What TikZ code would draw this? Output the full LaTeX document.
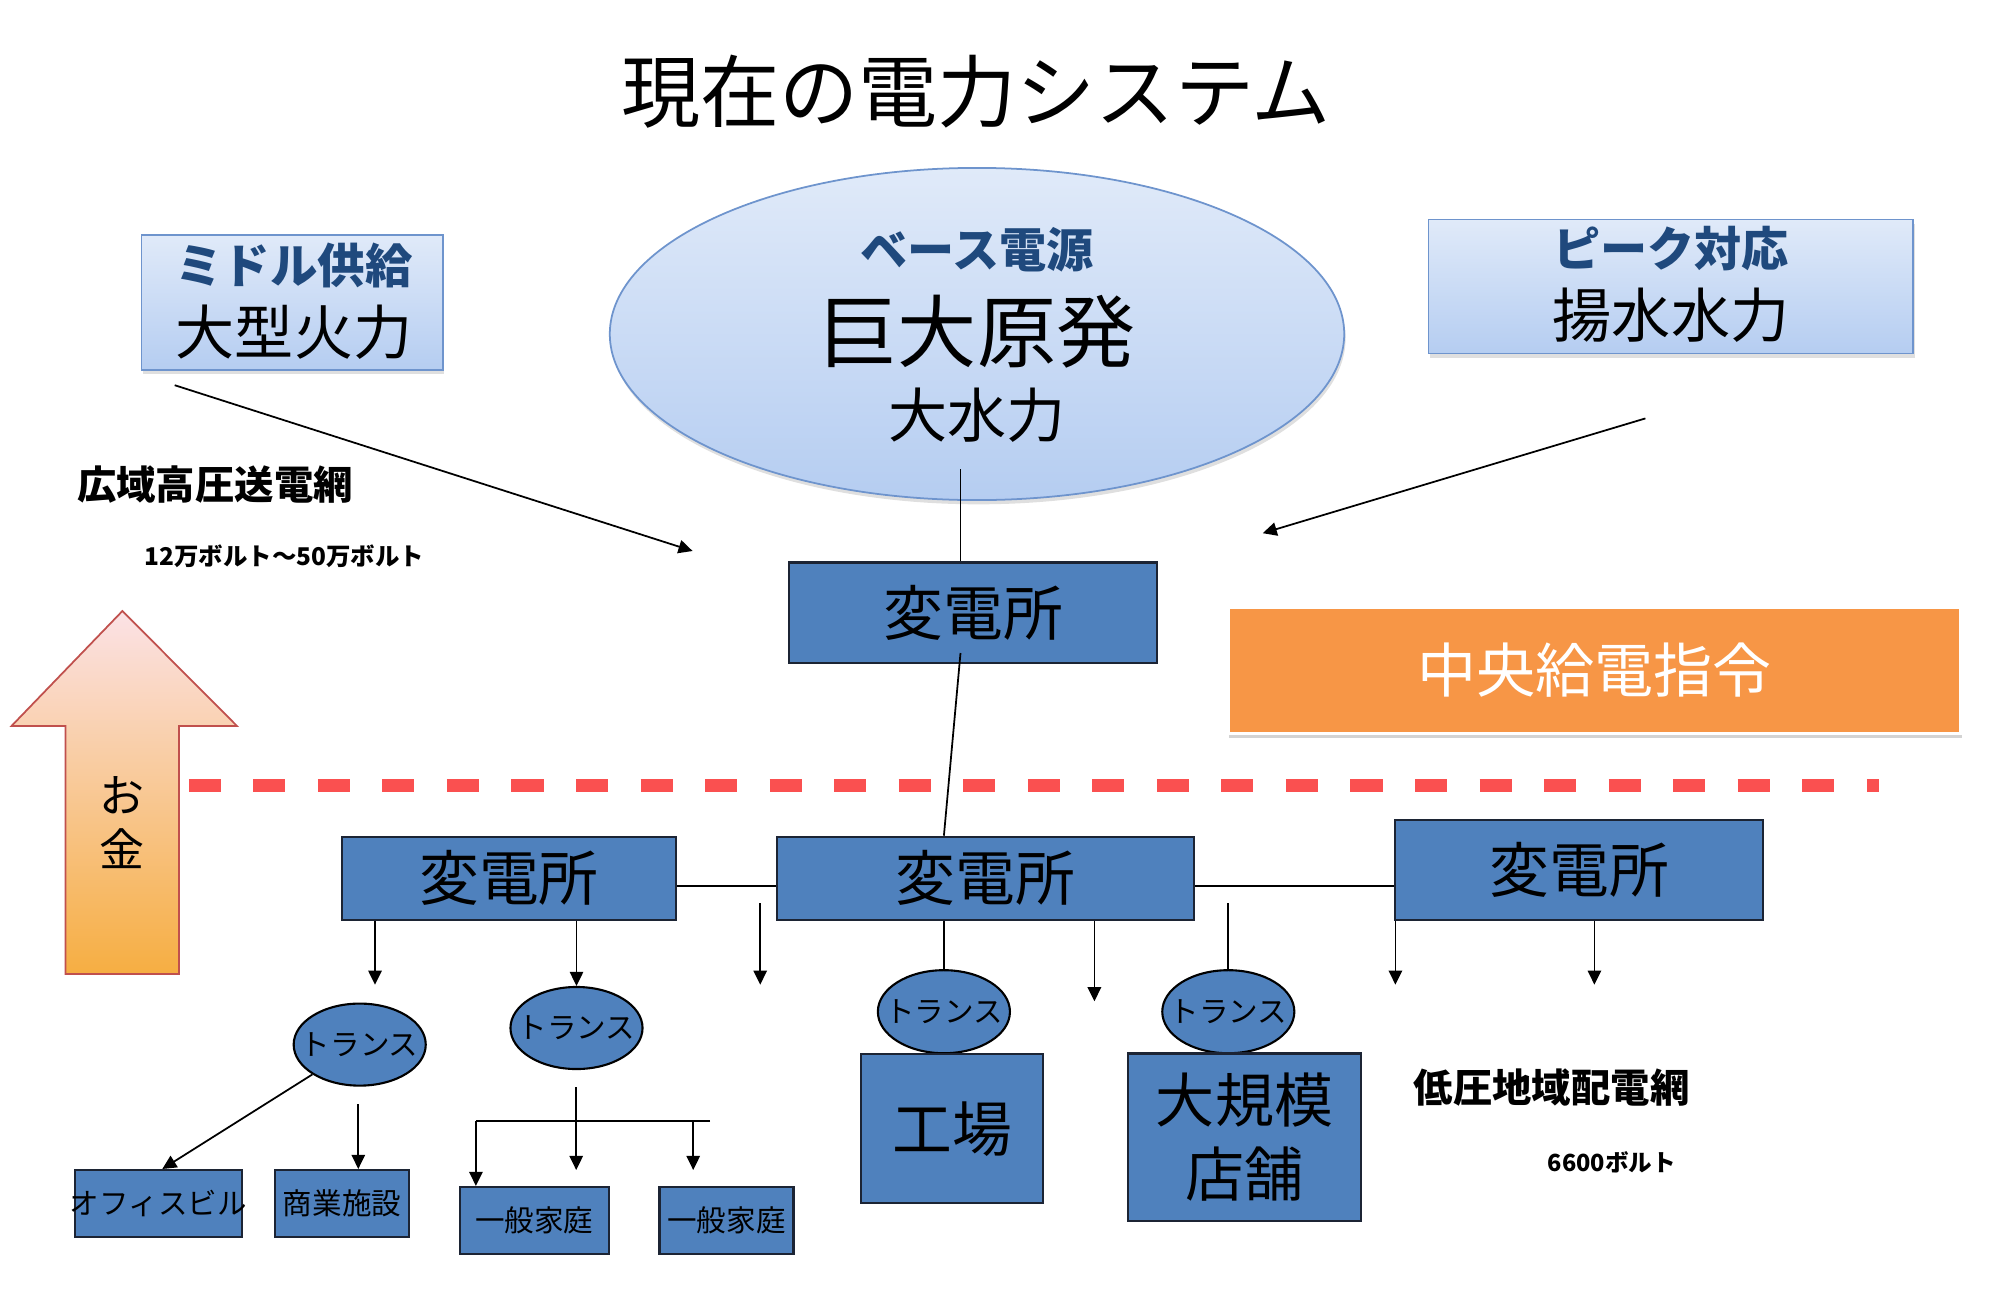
\documentclass[tikz,border=0pt]{standalone}
\usepackage{fontspec}
\setmainfont{Noto Sans CJK JP}
\usetikzlibrary{arrows.meta,shapes.geometric,shadows,calc}
\definecolor{boxblue}{RGB}{79,129,189}
\definecolor{boxline}{RGB}{28,36,52}
\definecolor{lighttop}{RGB}{224,234,249}
\definecolor{lightbot}{RGB}{181,205,241}
\definecolor{lightline}{RGB}{110,148,205}
\definecolor{darkbluetext}{RGB}{31,73,125}
\definecolor{orangebox}{RGB}{247,150,70}
\definecolor{reddash}{RGB}{250,80,80}
\definecolor{moneytop}{RGB}{251,226,230}
\definecolor{moneybot}{RGB}{246,174,66}
\definecolor{moneyline}{RGB}{192,80,77}
\newcommand{\fs}[1]{\fontsize{#1}{#1}\selectfont}
\begin{document}
\begin{tikzpicture}[x=0.01cm,y=-0.01cm,
  subbox/.style={draw=boxline, line width=0.6pt, fill=boxblue, inner sep=0pt, font=\fs{17}},
  trans/.style={ellipse, draw=black, line width=0.6pt, fill=boxblue, minimum width=1.32cm, minimum height=0.82cm, inner sep=0pt,
     label={[font=\fs{8.4}, inner sep=0pt]center:トランス}},
  lightbox/.style={draw=lightline, line width=0.5pt, top color=lighttop, bottom color=lightbot, inner sep=0pt,
     drop shadow={opacity=0.25, shadow xshift=0.4pt, shadow yshift=-1.2pt}},
  conn/.style={line width=0.5pt},
  arr/.style={conn, -{Triangle[length=4pt,width=3.8pt]}},
  txt/.style={inner sep=0pt},
  small/.style={label={[font=\fs{8.4}, inner sep=0pt]center:#1}}
]
\useasboundingbox (0,0) rectangle (2000,1306);

% title
\node[txt, font=\fs{22.5}] (title) at (976,92) {現在の電力システム};

% supply boxes
\node[lightbox, minimum width=3.01cm, minimum height=1.352cm] (midori) at (292.1,302.3) {};
\node[txt, font=\bfseries\fs{13.5}, text=darkbluetext] (midoriA) at (294,265) {ミドル供給};
\node[txt, font=\fs{16.8}] (midoriB) at (294,332) {大型火力};

\node[lightbox, ellipse, minimum width=7.34cm, minimum height=3.32cm] (base) at (977,334) {};
\node[txt, font=\bfseries\fs{13.4}, text=darkbluetext] (baseA) at (977,250) {ベース電源};
\node[txt, font=\fs{22.5}] (baseB) at (977,332) {巨大原発};
\node[txt, font=\fs{16.8}] (baseC) at (977,415) {大水力};

\node[lightbox, minimum width=4.846cm, minimum height=1.339cm] (peak) at (1670.9,286.4) {};
\node[txt, font=\bfseries\fs{13.4}, text=darkbluetext] (peakA) at (1671,249) {ピーク対応};
\node[txt, font=\fs{16.8}] (peakB) at (1671,315) {揚水水力};

% arrows from supplies
\coordinate (midoriS) at (174.7,385.2);
\coordinate (midoriE) at (692.6,551);
\draw[arr] (midoriS) -- (midoriE);
\coordinate (peakS) at (1645.4,418.4);
\coordinate (peakE) at (1262.7,533.2);
\draw[arr] (peakS) -- (peakE);

% labels
\node[txt, anchor=west, font=\bfseries\fs{11.2}] (kouiki) at (76.5,485) {広域高圧送電網};
\node[txt, anchor=west, font=\bfseries\fs{6.95}] (kouikiV) at (144,556.7) {12万ボルト〜50万ボルト};
\node[txt, anchor=west, font=\bfseries\fs{11.2}] (teiatsu) at (1413,1087.5) {低圧地域配電網};
\node[txt, anchor=west, font=\bfseries\fs{6.7}] (teiatsuV) at (1547,1162) {6600ボルト};

% top substation
\node[subbox, minimum width=3.674cm, minimum height=1.008cm] (topsub) at (973.2,612.9) {変電所};
\coordinate (baseIn) at (960.5,469);
\draw[conn] (baseIn) -- (baseIn |- topsub.north);

% central dispatch
\node[fill=orangebox, draw=white, line width=1pt, minimum width=7.322cm, minimum height=1.263cm, inner sep=0pt,
  font=\fs{16.8}, text=white, drop shadow={opacity=0.35, shadow xshift=0.3pt, shadow yshift=-1.4pt}] (central) at (1594.4,670.3) {中央給電指令};

% money arrow
\shadedraw[top color=moneytop, bottom color=moneybot, draw=moneyline, line width=0.5pt]
  (122.4,611) -- (237,726) -- (179,726) -- (179,974) -- (65.5,974) -- (65.5,726) -- (11.5,726) -- cycle;
\node[txt, font=\fs{12.8}] (moneyA) at (122,795) {お};
\node[txt, font=\fs{12.8}] (moneyB) at (122,849) {金};

% red dashed boundary
\coordinate (dashL) at (188.8,785.7);
\coordinate (dashR) at (1879,785.7);
\draw[reddash, line width=0.13cm, dash pattern=on 0.32cm off 0.325cm] (dashL) -- (dashR);

% lower substations
\node[subbox, minimum width=3.342cm, minimum height=0.829cm] (subL) at (508.9,878.2) {変電所};
\node[subbox, minimum width=4.171cm, minimum height=0.829cm] (subM) at (985.4,878.2) {変電所};
\node[subbox, minimum width=3.674cm, minimum height=0.995cm] (subR) at (1579.1,869.9) {変電所};

\coordinate (topIn) at (960.5,653);
\draw[conn] (topIn) -- ($(subM.north)+(-41.5,0)$);

\coordinate (hy) at (0,886);
\draw[conn] (subL.east |- hy) -- (subM.west |- hy);
\draw[conn] (subM.east |- hy) -- (subR.west |- hy);

% transformers
\node[trans] (T1) at (359.7,1044.6) {};
\node[trans] (T2) at (576.5,1028) {};
\node[trans, minimum height=0.83cm] (T3) at (943.9,1011.7) {};
\node[trans, minimum height=0.83cm] (T4) at (1228.3,1011.7) {};

% drops from substations
\coordinate (a1) at (375,984.7);
\draw[arr] (a1 |- subL.south) -- (a1);
\draw[arr] (T2.north |- subL.south) -- (T2.north);
\coordinate (a3s) at (760.2,903);
\coordinate (a3e) at (760.2,984.7);
\draw[arr] (a3s) -- (a3e);
\draw[conn] (T3.north |- subM.south) -- (T3.north);
\coordinate (a4) at (1094.4,1001.3);
\draw[arr] (a4 |- subM.south) -- (a4);
\coordinate (t4top) at (1228.3,903);
\draw[conn] (t4top) -- (T4.north);
\coordinate (a5) at (1395.4,984.7);
\draw[arr] (a5 |- subR.south) -- (a5);
\coordinate (a6) at (1594.4,984.7);
\draw[arr] (a6 |- subR.south) -- (a6);

% consumers
\node[subbox, minimum width=1.669cm, minimum height=0.673cm, small=オフィスビル] (office) at (158.3,1203.7) {};
\node[subbox, minimum width=1.334cm, minimum height=0.673cm, small=商業施設] (shogyo) at (342,1203.7) {};
\node[subbox, minimum width=1.496cm, minimum height=0.67cm, small=一般家庭] (katei1) at (534.4,1220.5) {};
\node[subbox, minimum width=1.339cm, minimum height=0.67cm, small=一般家庭] (katei2) at (726.5,1220.5) {};
\node[subbox, minimum width=1.823cm, minimum height=1.492cm] (kojo) at (952.2,1128.7) {工場};
\node[subbox, minimum width=2.334cm, minimum height=1.674cm] (daikibo) at (1244.6,1137.2) {};
\node[txt, font=\fs{16.8}] (daikiboA) at (1244.6,1100) {大規模};
\node[txt, font=\fs{16.8}] (daikiboB) at (1244.6,1174) {店舗};

% distribution from transformers
\draw[arr] (T1) -- ($(office.north)+(4,0)$);
\coordinate (s1) at (358.3,1104);
\draw[arr] (s1) -- (s1 |- shogyo.north);
\coordinate (tb) at (576.2,1087);
\coordinate (tbe) at (576.2,1170);
\draw[arr] (tb) -- (tbe);
\coordinate (hl) at (475.9,1120.7);
\coordinate (hr) at (710,1120.7);
\draw[conn] (hr) -- (hl);
\draw[arr] (hl) -- (hl |- katei1.north);
\coordinate (hm) at (693.2,1120.7);
\coordinate (hme) at (693.2,1170);
\draw[arr] (hm) -- (hme);
\end{tikzpicture}
\end{document}
